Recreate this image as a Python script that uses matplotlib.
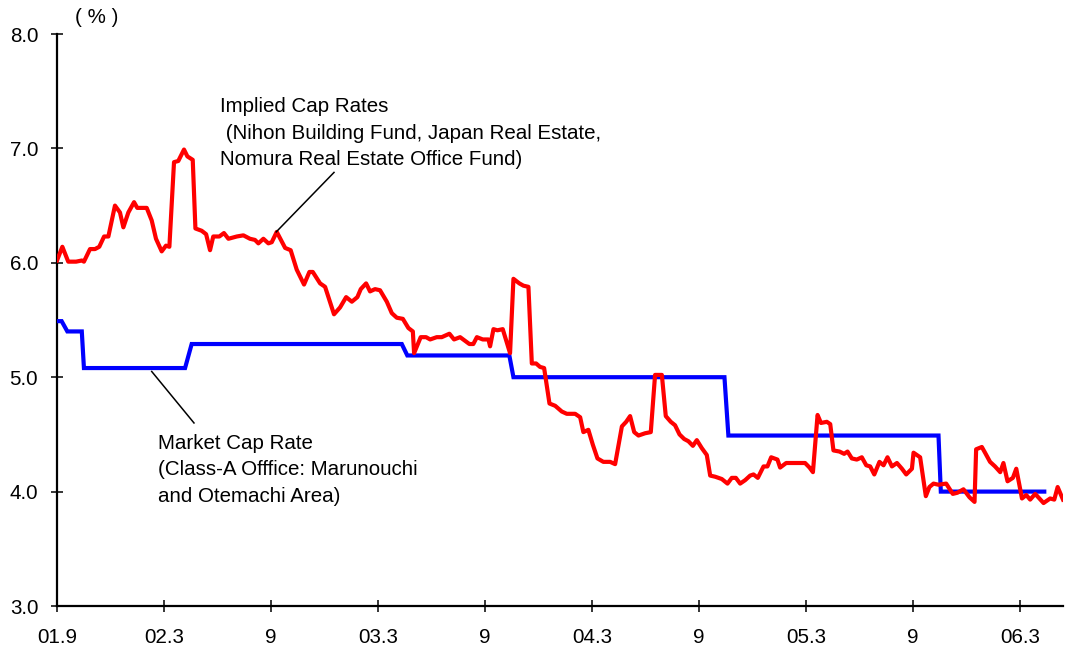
import matplotlib
matplotlib.use("Agg")
import matplotlib.pyplot as plt

plt.rcParams['font.family'] = ['Liberation Sans', 'DejaVu Sans']

# Months elapsed since September 2001
implied_months = [
    0.0, 0.30, 0.63, 1.07, 1.39, 1.51, 1.85, 2.13, 2.37, 2.64, 2.88, 3.25, 3.53, 3.72,
    4.00, 4.32, 4.50, 5.03, 5.31, 5.55, 5.87, 6.11, 6.30, 6.56, 6.80, 7.12, 7.31, 7.61,
    7.76, 8.11, 8.36, 8.58, 8.76, 9.10, 9.36, 9.61, 10.08, 10.45, 10.82, 11.10, 11.29,
    11.57, 11.85, 12.04, 12.32, 12.79, 13.10, 13.44, 13.85, 14.15, 14.34, 14.75, 15.03,
    15.53, 15.87, 16.21, 16.53, 16.84, 17.03, 17.33, 17.55, 17.83, 18.11, 18.49, 18.77,
    19.05, 19.39, 19.70, 19.95, 20.02, 20.39, 20.69, 20.92, 21.29, 21.57, 22.00, 22.26,
    22.60, 23.12, 23.34, 23.54, 23.87, 24.19, 24.28, 24.47, 24.69, 24.99, 25.40, 25.59,
    25.92, 26.15, 26.43, 26.62, 26.86, 27.08, 27.31, 27.61, 27.93, 28.30, 28.58, 29.05,
    29.33, 29.51, 29.79, 30.04, 30.30, 30.63, 31.01, 31.29, 31.67, 31.91, 32.13, 32.36,
    32.60, 32.97, 33.29, 33.53, 33.91, 34.13, 34.41, 34.65, 34.90, 35.16, 35.40, 35.65,
    35.87, 36.15, 36.43, 36.62, 36.90, 37.27, 37.59, 37.83, 38.06, 38.30, 38.58, 38.86,
    39.05, 39.29, 39.61, 39.83, 40.04, 40.39, 40.54, 40.88, 41.29, 41.94, 42.19, 42.38,
    42.64, 42.83, 43.16, 43.35, 43.53, 43.87, 44.13, 44.32, 44.56, 44.84, 45.12, 45.37,
    45.59, 45.82, 46.11, 46.34, 46.56, 46.81, 47.09, 47.37, 47.61, 47.93, 48.02, 48.39,
    48.71, 48.91, 49.14, 49.42, 49.85, 50.22, 50.48, 50.82, 51.16, 51.44, 51.53, 51.85,
    52.03, 52.31, 52.59, 52.88, 53.06, 53.29, 53.59, 53.78, 54.10, 54.34, 54.56, 54.84,
    55.31, 55.68, 55.91, 56.10, 56.40,
]
implied_rate = [
    6.02, 6.14, 6.01, 6.01, 6.02, 6.01, 6.12, 6.12, 6.14, 6.23, 6.23, 6.50, 6.44, 6.31,
    6.44, 6.53, 6.48, 6.48, 6.37, 6.21, 6.10, 6.15, 6.14, 6.88, 6.89, 6.99, 6.93, 6.90,
    6.30, 6.28, 6.25, 6.11, 6.23, 6.23, 6.26, 6.21, 6.23, 6.24, 6.21, 6.20, 6.17,
    6.21, 6.17, 6.18, 6.27, 6.13, 6.11, 5.94, 5.81, 5.92, 5.92, 5.82, 5.79,
    5.55, 5.61, 5.70, 5.66, 5.70, 5.77, 5.82, 5.75, 5.77, 5.76, 5.66, 5.56,
    5.52, 5.51, 5.43, 5.40, 5.21, 5.35, 5.35, 5.33, 5.35, 5.35, 5.38, 5.33,
    5.35, 5.29, 5.29, 5.35, 5.33, 5.33, 5.27, 5.42, 5.41, 5.42, 5.21, 5.86,
    5.82, 5.80, 5.79, 5.12, 5.12, 5.09, 5.08, 4.77, 4.75, 4.70, 4.68, 4.68,
    4.65, 4.52, 4.54, 4.41, 4.29, 4.26, 4.26, 4.24, 4.57, 4.61, 4.66, 4.52,
    4.49, 4.51, 4.52, 5.02, 5.02, 4.66, 4.61, 4.58, 4.50, 4.46, 4.44, 4.40,
    4.45, 4.38, 4.32, 4.14, 4.13, 4.11, 4.07, 4.12, 4.12, 4.07, 4.10, 4.14,
    4.15, 4.12, 4.22, 4.22, 4.30, 4.28, 4.21, 4.25, 4.25, 4.25, 4.21, 4.17,
    4.67, 4.60, 4.61, 4.59, 4.36, 4.35, 4.33, 4.35, 4.29, 4.28, 4.30, 4.23,
    4.22, 4.15, 4.26, 4.23, 4.30, 4.22, 4.25, 4.20, 4.15, 4.20, 4.34, 4.30,
    3.96, 4.04, 4.07, 4.06, 4.07, 3.98, 3.99, 4.02, 3.95, 3.91, 4.37, 4.39,
    4.34, 4.26, 4.22, 4.17, 4.25, 4.09, 4.12, 4.20, 3.94, 3.97, 3.93, 3.98,
    3.90, 3.94, 3.93, 4.04, 3.93,
]

market_months = [0.0, 0.26, 0.58, 1.39, 1.51, 7.18, 7.55, 19.33, 19.64, 25.36, 25.59,
                 37.42, 37.64, 49.42, 49.55, 55.35]
market_rate = [5.49, 5.49, 5.40, 5.40, 5.08, 5.08, 5.29, 5.29, 5.19, 5.19, 5.00,
               5.00, 4.49, 4.49, 4.00, 4.00]

tick_months = [0, 6, 12, 18, 24, 30, 36, 42, 48, 54]
tick_labels = ['01.9', '02.3', '9', '03.3', '9', '04.3', '9', '05.3', '9', '06.3']
y_ticks = [3.0, 4.0, 5.0, 6.0, 7.0, 8.0]

FS = 14.8

fig = plt.figure(figsize=(10.65, 6.53), dpi=100)
ax = fig.add_axes([57 / 1065, 1 - 606 / 653, (1063 - 57) / 1065, (606 - 34) / 653])

ax.plot(market_months, market_rate, color='#0000ff', lw=3.0, solid_joinstyle='miter', zorder=3)
ax.plot(implied_months, implied_rate, color='#ff0000', lw=3.0, solid_joinstyle='round', zorder=4)

ax.set_xlim(0, 56.4)
ax.set_ylim(3.0, 8.0)

ax.set_xticks(tick_months)
ax.set_xticklabels(tick_labels)
ax.set_yticks(y_ticks)
ax.set_yticklabels([f'{v:.1f}' for v in y_ticks])

for s in ('top', 'right'):
    ax.spines[s].set_visible(False)
for s in ('left', 'bottom'):
    ax.spines[s].set_linewidth(1.6)
    ax.spines[s].set_color('black')

ax.tick_params(axis='both', direction='inout', length=9, width=1.1, labelsize=FS, colors='black')
ax.tick_params(axis='x', pad=11)
ax.tick_params(axis='y', pad=9)

# Unit label above the value axis
ax.text(1.0, 8.14, '( % )', fontsize=FS, ha='left', va='center', clip_on=False)

# Series captions with leader lines
ax.text(9.14, 7.445, 'Implied Cap Rates\n (Nihon Building Fund, Japan Real Estate,\nNomura Real Estate Office Fund)',
        fontsize=FS, ha='left', va='top', linespacing=1.5)
ax.plot([12.29, 15.53], [6.27, 6.79], color='black', lw=1.1, zorder=5)

ax.text(5.66, 4.505, 'Market Cap Rate\n(Class-A Offfice: Marunouchi\nand Otemachi Area)',
        fontsize=FS, ha='left', va='top', linespacing=1.5)
ax.plot([5.31, 7.68], [5.05, 4.60], color='black', lw=1.1, zorder=5)

fig.savefig('out.png', dpi=100)
